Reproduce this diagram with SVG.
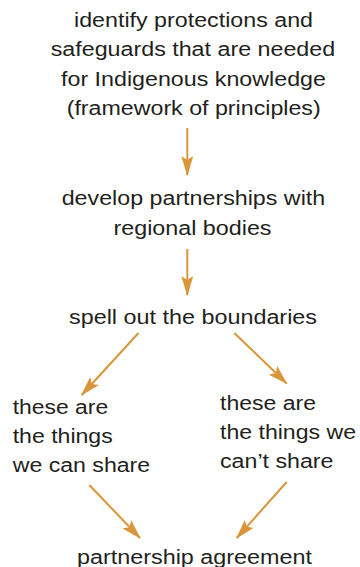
<svg xmlns="http://www.w3.org/2000/svg" width="360" height="567" viewBox="0 0 360 567">
<style>
.t{font-family:"Liberation Sans",Arial,sans-serif;font-size:20px;fill:#231F20}
.c{stroke:#D8953A;stroke-width:2;fill:none;marker-end:url(#ah)}
</style>
<defs>
<marker id="ah" markerUnits="userSpaceOnUse" viewBox="0 0 20 12" markerWidth="20" markerHeight="12" refX="19" refY="6" orient="auto">
<path d="M0,0 L20,6 L0,12 L4,6 Z" fill="#D8953A"/>
</marker>
</defs>
<rect width="360" height="567" fill="#fff"/>
<g id="connectors">
<line class="c" x1="187.3" y1="128" x2="187.3" y2="175"/>
<line class="c" x1="187.3" y1="249" x2="187.3" y2="295"/>
<line class="c" x1="138.5" y1="333" x2="81.7" y2="395"/>
<line class="c" x1="234.3" y1="333" x2="286.7" y2="383.5"/>
<line class="c" x1="89.3" y1="485" x2="140" y2="538"/>
<line class="c" x1="286.7" y1="482" x2="236.7" y2="538"/>
</g>
<g id="node-identify">
<text class="t" x="74" y="26.8" textLength="239" lengthAdjust="spacingAndGlyphs">identify protections and</text>
<text class="t" x="50.7" y="56.3" textLength="284.5" lengthAdjust="spacingAndGlyphs">safeguards that are needed</text>
<text class="t" x="61" y="85.8" textLength="265" lengthAdjust="spacingAndGlyphs">for Indigenous knowledge</text>
<text class="t" x="66.7" y="115.3" textLength="254" lengthAdjust="spacingAndGlyphs">(framework of principles)</text>
</g>
<g id="node-partnerships">
<text class="t" x="61.7" y="205.3" textLength="263.5" lengthAdjust="spacingAndGlyphs">develop partnerships with</text>
<text class="t" x="113.5" y="234.8" textLength="158" lengthAdjust="spacingAndGlyphs">regional bodies</text>
</g>
<g id="node-boundaries">
<text class="t" x="69" y="323.5" textLength="248" lengthAdjust="spacingAndGlyphs">spell out the boundaries</text>
</g>
<g id="node-can-share">
<text class="t" x="12.7" y="414" textLength="95.5" lengthAdjust="spacingAndGlyphs">these are</text>
<text class="t" x="12.7" y="443" textLength="100" lengthAdjust="spacingAndGlyphs">the things</text>
<text class="t" x="12.7" y="472" textLength="137.5" lengthAdjust="spacingAndGlyphs">we can share</text>
</g>
<g id="node-cant-share">
<text class="t" x="220" y="410" textLength="96" lengthAdjust="spacingAndGlyphs">these are</text>
<text class="t" x="220" y="439" textLength="136" lengthAdjust="spacingAndGlyphs">the things we</text>
<text class="t" x="220" y="468" textLength="113.5" lengthAdjust="spacingAndGlyphs">can’t share</text>
</g>
<g id="node-agreement">
<text class="t" x="77" y="563.5" textLength="235" lengthAdjust="spacingAndGlyphs">partnership agreement</text>
</g>
</svg>
